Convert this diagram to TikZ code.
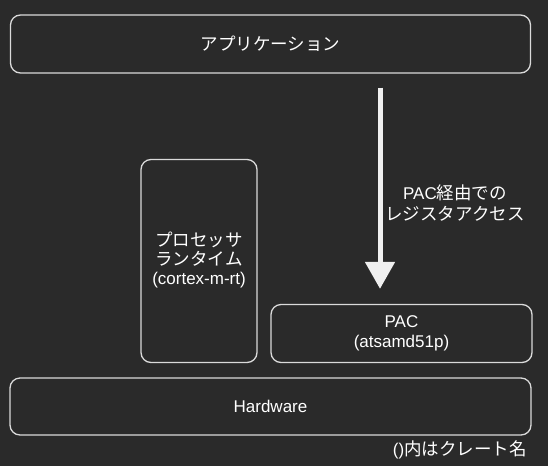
\documentclass[tikz,border=0pt]{standalone}
\usepackage{fontspec}
\setmainfont{Liberation Sans}
\newfontfamily\cjk[Scale=1.03]{Noto Sans CJK JP}
\usetikzlibrary{arrows.meta}
\definecolor{bg}{HTML}{2A2A2A}
\definecolor{edge}{HTML}{DADADA}
\definecolor{arr}{HTML}{F0F0F0}
\begin{document}
\begin{tikzpicture}[x=1pt,y=-1pt,
  box/.style={draw=edge, line width=1.3pt, rounded corners=10pt, text=white, align=center,
    font=\fontsize{17}{20}\selectfont, inner sep=0pt},
  lbl/.style={text=white, align=center, font=\fontsize{17}{21}\selectfont, inner sep=0pt}]
\fill[bg] (0,0) rectangle (548,466);
\useasboundingbox (0,0) rectangle (548,466);
\node[box, minimum width=520pt, minimum height=58pt] (app) at (270.5,44) {\cjk アプリケーション};
\node[box, minimum width=116pt, minimum height=203pt] (proc) at (199,261)
  {\raisebox{-3pt}{\begin{tabular}{@{}c@{}}{\cjk プロセッサ}\\[-1pt]{\cjk ランタイム}\\[-1pt](cortex-m-rt)\end{tabular}}};
\node[box, minimum width=261pt, minimum height=58pt] (pac) at (401.5,333.5) {PAC\\(atsamd51p)};
\node[box, minimum width=521pt, minimum height=57pt] (hw) at (270.5,406.5) {Hardware};
\coordinate (a1) at (app.south -| 380,0);
\coordinate (a2) at (pac.north -| 380,0);
\draw[arr, line width=5pt, shorten <=14pt, shorten >=15pt,
  -{Triangle[width=29pt,length=27pt]}] (a1) -- (a2);
\node[lbl] (via) at (455,203) {PAC{\cjk 経由での}\\{\cjk レジスタアクセス}};
\node[lbl, anchor=east] (note) at (527,450) {(){\cjk 内はクレート名}};
\end{tikzpicture}
\end{document}
